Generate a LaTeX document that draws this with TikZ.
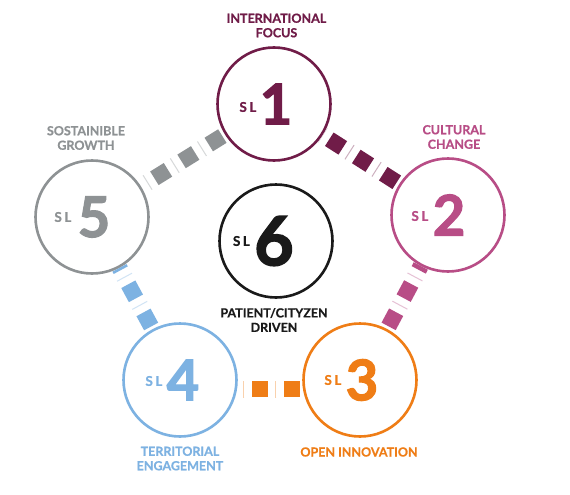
\documentclass[tikz,border=0pt]{standalone}
\usepackage{fontspec}
\setmainfont{Lato}
\newfontfamily\numfont{Lato}[BoldFeatures={FakeBold=2.2}]
\newfontfamily\labfont{Lato}[BoldFeatures={FakeBold=0.6}]
\definecolor{C1}{RGB}{112,28,72}
\definecolor{C2}{RGB}{184,77,134}
\definecolor{C3}{RGB}{239,125,22}
\definecolor{C4}{RGB}{125,178,226}
\definecolor{C5}{RGB}{142,146,148}
\definecolor{C6}{RGB}{26,26,26}
\tikzset{
  ring/.style={circle, draw=#1, line width=2.6pt, minimum size=113pt, inner sep=0pt},
  num/.style={text=#1, inner sep=0pt, font=\numfont\fontsize{56}{56}\selectfont\bfseries},
  bignum/.style={text=#1, inner sep=0pt, font=\numfont\fontsize{68}{68}\selectfont\bfseries},
  sl/.style={text=#1, inner sep=0pt, anchor=east, font=\labfont\fontsize{13.5}{13.5}\selectfont\bfseries},
  lab/.style={text=#1, align=center, inner sep=0pt, font=\labfont\fontsize{12.5}{14.5}\selectfont\bfseries},
  sq/.style={draw=#1, line width=16pt, dash pattern=on 16pt off 16pt, dash phase=29pt},
  tk/.style={draw=#1!35, line width=17pt, dash pattern=on 1pt off 31pt, dash phase=5.5pt}
}
\begin{document}
\begin{tikzpicture}[x=1pt,y=-1pt]
\useasboundingbox (0,0) rectangle (570,495);
\fill[white] (0,0) rectangle (570,495);
% circles
\node[ring=C1] (c1) at (274,104) {};
\node[ring=C2] (c2) at (448,215) {};
\node[ring=C3] (c3) at (360,380) {};
\node[ring=C4] (c4) at (180,380) {};
\node[ring=C5] (c5) at (92,217) {};
\node[ring=C6] (c6) at (276,241) {};
% numbers
\node[num=C1] (n1) at ([xshift=2pt]c1.center) {1};
\node[num=C2] (n2) at ([xshift=1pt]c2.center) {2};
\node[num=C3] (n3) at ([xshift=2pt]c3.center) {3};
\node[num=C4] (n4) at ([xshift=3pt]c4.center) {4};
\node[num=C5] (n5) at ([xshift=2pt]c5.center) {5};
\node[bignum=C6] (n6) at ([xshift=-2pt]c6.center) {6};
\node[sl=C1] (s1) at ([xshift=-3pt,yshift=-3pt]n1.west) {S\kern2.5pt L};
\node[sl=C2] (s2) at ([xshift=-4pt,yshift=-1pt]n2.west) {S\kern2.5pt L};
\node[sl=C3] (s3) at ([xshift=-4pt]n3.west) {S\kern2.5pt L};
\node[sl=C4] (s4) at ([xshift=-4pt,yshift=-1pt]n4.west) {S\kern2.5pt L};
\node[sl=C5] (s5) at ([xshift=-6pt]n5.west) {S\kern2.5pt L};
\node[sl=C6] (s6) at ([xshift=-4pt]n6.west) {S\kern2.5pt L};
% labels
\node[lab=C1] (l1) at (276.5,25.5) {INTERNATIONAL\\FOCUS};
\node[lab=C2] (l2) at (454,137) {CULTURAL\\CHANGE};
\node[lab=C5] (l5) at (86,138) {SOSTAINIBLE\\GROWTH};
\node[lab=C6] (l6) at (274,320) {PATIENT/CITYZEN\\DRIVEN};
\node[lab=C4] (l4) at (180,458.5) {TERRITORIAL\\ENGAGEMENT};
\node[lab=C3] (l3) at (359,452) {OPEN INNOVATION};
% connectors
\draw[tk=C1] (c2) -- (c1);
\draw[sq=C1] (c2) -- (c1);
\draw[tk=C2] (c3) -- (c2);
\draw[sq=C2] (c3) -- (c2);
\draw[tk=C3] (c3.189) -- (c4.-9);
\draw[sq=C3] (c3.189) -- (c4.-9);
\draw[tk=C4] (c4) -- (c5);
\draw[sq=C4] (c4) -- (c5);
\draw[tk=C5] (c1) -- (c5);
\draw[sq=C5] (c1) -- (c5);
\end{tikzpicture}
\end{document}
